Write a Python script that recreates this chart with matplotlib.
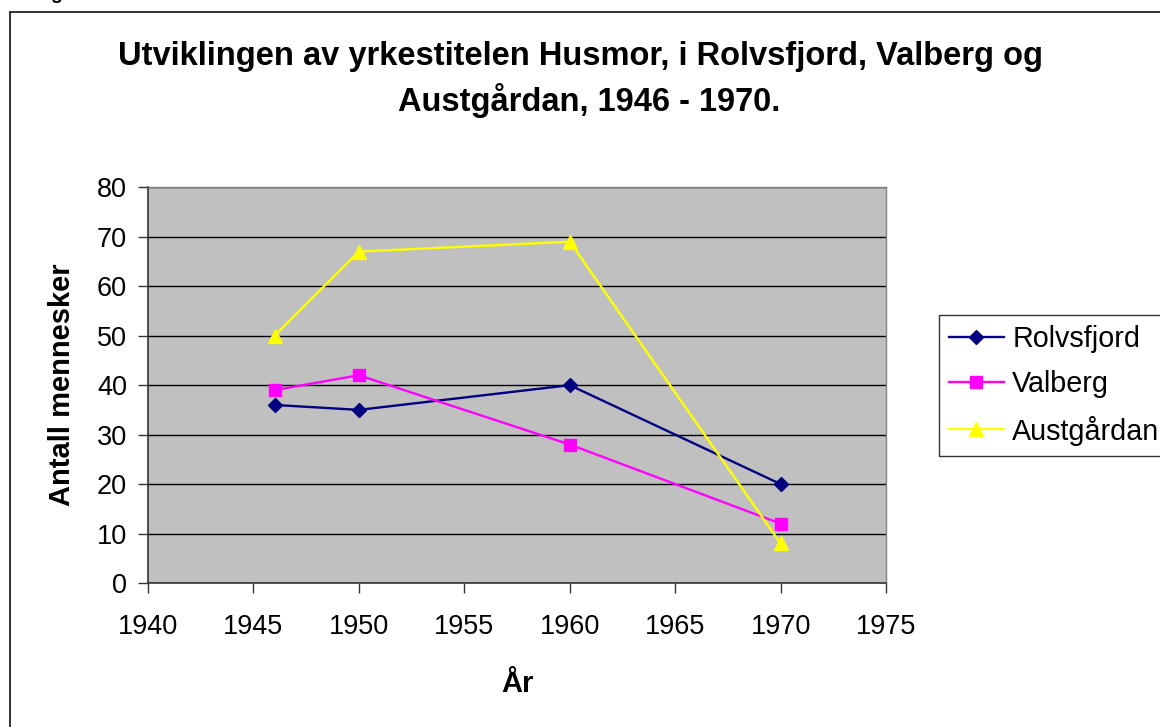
import matplotlib
matplotlib.use('agg')
from matplotlib import pyplot as plt
from matplotlib.patches import Rectangle

plt.rcParams['font.family'] = ['Liberation Sans', 'DejaVu Sans']

# data
years = [1946, 1950, 1960, 1970]
rolvsfjord = [36, 35, 40, 20]
valberg = [39, 42, 28, 12]
austgardan = [50, 67, 69, 8]

series_names = ['Rolvsfjord', 'Valberg', 'Austgårdan']
x_ticks = [1940, 1945, 1950, 1955, 1960, 1965, 1970, 1975]
y_ticks = [0, 10, 20, 30, 40, 50, 60, 70, 80]

fig = plt.figure(figsize=(11.6, 7.27), dpi=100)
fig.patch.set_facecolor('white')

# outer chart frame (runs off the right and bottom edge)
fig.patches.append(Rectangle((10 / 1160, -0.1), 1.2, 1.1 - 12 / 727,
                             transform=fig.transFigure, fill=False,
                             edgecolor='#222222', linewidth=1.3, clip_on=False))

# cut-off character from the text above the chart
fig.text(50 / 1160, 1.0 + 1 / 727, 'g', fontsize=14, fontweight='bold',
         va='baseline', ha='left')

ax = fig.add_axes([148 / 1160, 1 - 583 / 727, 738 / 1160, 395.7 / 727])
ax.set_facecolor('#C0C0C0')

ax.plot(years, rolvsfjord, color='#000080', marker='D', markersize=7.5,
        linewidth=1.7, label=series_names[0], zorder=3)
ax.plot(years, valberg, color='#FF00FF', marker='s', markersize=8.5,
        linewidth=1.7, label=series_names[1], zorder=3)
ax.plot(years, austgardan, color='#FFFF00', marker='^', markersize=10,
        linewidth=1.7, label=series_names[2], zorder=3)

ax.set_xlim(1940, 1975)
ax.set_ylim(0, 80)
ax.set_xticks(x_ticks)
ax.set_yticks(y_ticks)
ax.yaxis.grid(True, color='black', linewidth=1.0)
ax.set_axisbelow(True)

ax.tick_params(axis='both', direction='out', length=7, width=1,
               color='#333333', labelsize=19.5, pad=8)
ax.tick_params(axis='x', pad=15)
for side in ['left', 'bottom']:
    ax.spines[side].set_color('#333333')
    ax.spines[side].set_linewidth(1.2)
for side in ['top', 'right']:
    ax.spines[side].set_color('#808080')
    ax.spines[side].set_linewidth(1.0)

ax.set_xlabel('År', fontsize=21, fontweight='bold', labelpad=22)
ax.set_ylabel('Antall mennesker', fontsize=21, fontweight='bold', labelpad=15)

# title, two lines as wrapped in the original
fig.text(580 / 1160, 1 - 57 / 727,
         'Utviklingen av yrkestitelen Husmor, i Rolvsfjord, Valberg og',
         ha='center', va='center', fontsize=23.5, fontweight='bold')
fig.text(589 / 1160, 1 - 100 / 727, 'Austgårdan, 1946 - 1970.',
         ha='center', va='center', fontsize=23.5, fontweight='bold')

leg = ax.legend(loc='upper left', bbox_to_anchor=(939 / 1160, 1 - 315 / 727),
                bbox_transform=fig.transFigure, fontsize=20.7, frameon=True,
                fancybox=False, edgecolor='black', handlelength=1.9,
                handletextpad=0.3, labelspacing=0.6, borderpad=0.35,
                borderaxespad=0)
leg.get_frame().set_linewidth(1.0)

fig.savefig('out.png', dpi=100)
